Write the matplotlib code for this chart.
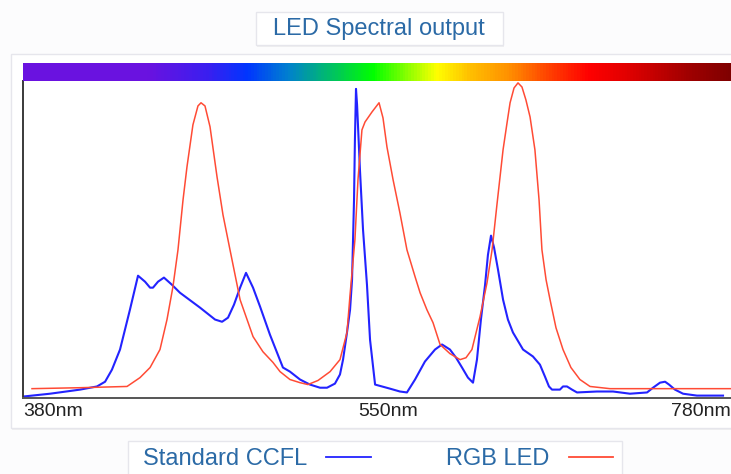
import matplotlib
matplotlib.use('Agg')
import matplotlib.pyplot as plt
from matplotlib.colors import LinearSegmentedColormap
from matplotlib.patches import Rectangle
from matplotlib.lines import Line2D
import numpy as np

plt.rcParams['font.family'] = ['Liberation Sans', 'DejaVu Sans']

# ---------------- data ----------------
title = 'LED Spectral output'
series_names = ['Standard CCFL', 'RGB LED']
tick_labels = ['380nm', '550nm', '780nm']

ccfl_nm = [380.0, 395.0, 411.7, 421.1, 425.6, 429.4, 433.9, 439.4, 443.9, 447.8,
           450.6, 452.2, 455.0, 458.3, 462.8, 467.2, 478.3, 486.7, 490.6, 493.9,
           497.2, 500.6, 503.9, 507.8, 511.7, 517.2, 524.4, 528.3, 533.9, 539.4,
           545.0, 548.9, 553.3, 556.1, 557.8, 560.0, 561.7, 562.8, 563.9, 564.4,
           565.0, 565.6, 567.2, 568.9, 571.1, 572.8, 575.6, 583.9, 589.4, 593.3,
           597.8, 603.3, 608.9, 612.8, 617.2, 620.6, 623.9, 627.2, 630.0, 632.2,
           634.4, 636.7, 638.3, 640.0, 641.7, 643.9, 646.7, 649.4, 652.2, 657.8,
           663.3, 667.2, 670.0, 672.2, 673.9, 678.3, 680.0, 682.2, 685.0, 687.8,
           698.9, 707.8, 717.2, 726.7, 730.0, 733.9, 736.7, 738.9, 742.2, 746.7,
           754.4, 768.9]
ccfl_val = [0.0, 0.9, 2.2, 3.2, 4.7, 8.5, 14.9, 27.5, 38.3, 36.4,
            34.5, 34.5, 36.4, 37.7, 35.4, 32.9, 28.2, 24.4, 23.7, 25.0,
            29.1, 34.5, 39.2, 34.5, 28.5, 19.6, 9.2, 7.9, 5.4, 3.8,
            2.8, 2.8, 4.1, 7.0, 11.7, 20.3, 27.5, 37.0, 62.3, 81.3,
            97.5, 92.4, 71.8, 52.9, 35.4, 18.0, 3.8, 2.5, 1.6, 1.3,
            5.4, 11.1, 14.9, 16.5, 14.9, 12.3, 9.2, 6.0, 4.4, 11.7,
            24.4, 35.4, 44.9, 51.0, 47.2, 40.2, 30.7, 24.4, 20.3, 14.9,
            12.7, 10.1, 6.3, 3.2, 2.2, 2.2, 3.2, 3.2, 2.2, 1.3,
            1.6, 1.6, 0.9, 1.3, 2.8, 4.4, 4.7, 3.8, 2.2, 0.9,
            0.3, 0.3]

led_nm = [385.0, 411.7, 437.8, 445.0, 450.6, 456.1, 460.0, 463.3, 466.1, 468.9,
          471.1, 474.4, 477.2, 478.9, 481.1, 483.9, 487.8, 491.1, 495.0, 500.6,
          507.8, 513.3, 518.9, 522.8, 528.3, 533.9, 538.3, 543.9, 550.6, 556.1,
          560.0, 561.7, 564.4, 566.1, 568.3, 570.0, 573.9, 577.8, 580.0, 582.2,
          585.6, 589.4, 593.3, 597.8, 600.6, 604.4, 607.8, 611.7, 617.2, 622.8,
          626.1, 629.4, 633.9, 637.8, 640.6, 643.3, 646.7, 648.9, 650.6, 652.8,
          655.0, 657.2, 659.4, 661.7, 664.4, 666.7, 668.3, 670.6, 672.8, 676.1,
          680.0, 684.4, 689.4, 695.0, 706.1, 780.0]
led_val = [2.5, 2.8, 3.2, 6.0, 9.2, 14.9, 24.4, 34.8, 46.5, 62.3,
           72.8, 86.1, 92.1, 93.1, 92.1, 85.5, 69.6, 57.6, 46.5, 30.7,
           19.0, 14.2, 10.8, 7.9, 5.4, 4.4, 3.8, 5.1, 7.9, 11.7,
           20.3, 32.3, 49.7, 68.7, 84.5, 87.0, 90.2, 93.1, 88.3, 79.1,
           68.7, 58.2, 46.5, 38.0, 32.9, 27.5, 23.4, 16.5, 13.6, 11.7,
           12.3, 14.9, 25.3, 36.1, 46.5, 60.8, 78.2, 86.7, 93.1, 97.8,
           99.4, 98.1, 94.0, 88.6, 78.2, 62.3, 46.5, 37.0, 30.7, 21.8,
           14.9, 9.2, 5.4, 3.2, 2.5, 2.5]

# ---------------- layout helpers ----------------
W, H = 731, 474
def fx(px):
    return px / W
def fy(py):
    return 1 - py / H

TEXT_BLUE = '#2b6aa6'
fig = plt.figure(figsize=(W / 100, H / 100), dpi=100)
fig.patch.set_facecolor('#fcfcfd')

def box(x0, y0, x1, y1, shadow=True):
    if shadow:
        fig.patches.append(Rectangle((fx(x0 + 1), fy(y1 + 2)), (x1 - x0) / W, (y1 - y0) / H,
                                     transform=fig.transFigure, facecolor='#000000',
                                     alpha=0.05, edgecolor='none', zorder=-20))
    fig.patches.append(Rectangle((fx(x0), fy(y1)), (x1 - x0) / W, (y1 - y0) / H,
                                 transform=fig.transFigure, facecolor='white',
                                 edgecolor='#e6e6ec', lw=1.0, zorder=-10))

# outer panel, title box, legend box
box(11, 54, 770, 428)
box(256, 12, 503, 45)
box(128, 441, 622, 495)
fig.text(fx(379), fy(29), title, ha='center', va='center', fontsize=17, color=TEXT_BLUE)

# ---------------- main axes ----------------
ax = fig.add_axes([fx(23), fy(397.5), (743 - 23) / W, (397.5 - 81) / H])
ax.set_facecolor('none')
l1, = ax.plot(ccfl_nm, ccfl_val, color='#2323ff', lw=1.5, solid_joinstyle='round')
l2, = ax.plot(led_nm, led_val, color='#ff4b35', lw=1.1, solid_joinstyle='round')
ax.set_xlim(380, 780)
ax.set_ylim(-0.3, 100)
for s in ['top', 'right']:
    ax.spines[s].set_visible(False)
ax.spines['left'].set_color('#3a3a3a')
ax.spines['left'].set_linewidth(1.4)
ax.spines['bottom'].set_color('#555555')
ax.spines['bottom'].set_linewidth(1.4)
ax.set_yticks([])
ax.set_xticks([380, 583, 773.3], tick_labels)
ax.tick_params(axis='x', length=0, pad=4, labelsize=14, labelcolor='#222222')
lbls = ax.get_xticklabels()
lbls[0].set_ha('left')
lbls[2].set_ha('right')

# ---------------- spectrum colour bar ----------------
stops = [(0.0, '#6a12e0'), (0.172, '#6a12e0'), (0.256, '#3a1ff0'), (0.311, '#0036ff'),
         (0.367, '#0080d0'), (0.4125, '#00b080'), (0.486, '#00ff00'), (0.575, '#ffff00'),
         (0.621, '#ffc000'), (0.676, '#ff9000'), (0.732, '#ff4000'), (0.7875, '#ff0000'),
         (0.843, '#e00000'), (0.926, '#a00000'), (0.983, '#800000'), (1.0, '#780000')]
cmap = LinearSegmentedColormap.from_list('spec', stops)
cax = fig.add_axes([fx(23), fy(81), (743 - 23) / W, 18 / H])
cax.imshow(np.linspace(0, 1, 720)[None, :], aspect='auto', cmap=cmap, extent=[380, 780, 0, 1])
cax.set_xlim(380, 780)
cax.axis('off')

# ---------------- legend ----------------
h1 = Line2D([], [], color='#2323ff', lw=1.3)
h2 = Line2D([], [], color='#ff4b35', lw=1.3)
leg = fig.legend([h1, h2], series_names, ncol=2, markerfirst=False, loc='center left',
                 bbox_to_anchor=(fx(138), fy(459)), frameon=False, borderaxespad=0,
                 fontsize=17, handlelength=1.9, handletextpad=0.8,
                 columnspacing=3.2, borderpad=0.2, labelcolor=TEXT_BLUE)

fig.savefig('out.png', dpi=100, facecolor=fig.get_facecolor())
